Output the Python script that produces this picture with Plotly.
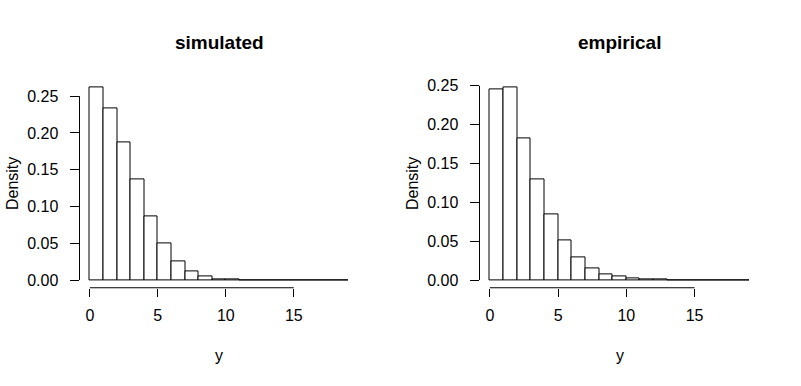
import plotly.graph_objects as go

# Histogram bins (width 1) from 0 to 19
bin_left = list(range(0, 19))
bin_centers = [b + 0.5 for b in bin_left]

simulated_density = [0.2623, 0.2335, 0.1867, 0.1363, 0.0868, 0.0499, 0.0256, 0.0121,
                     0.0054, 0.0013, 0.0008, 0.0002, 0.0001, 0.0001, 0.0001, 0.0001,
                     0.0001, 0.0001, 0.0001]
empirical_density = [0.2453, 0.2483, 0.1827, 0.1290, 0.0843, 0.0511, 0.0294, 0.0153,
                     0.0077, 0.0051, 0.0026, 0.0013, 0.0010, 0.0001, 0.0001, 0.0001,
                     0.0001, 0.0001, 0.0001]

titles = ["simulated", "empirical"]
x_ticks = [0, 5, 10, 15]
y_ticks = [0.00, 0.05, 0.10, 0.15, 0.20, 0.25]
x_label = "y"
y_label = "Density"

W, H = 801, 386
FONT = "Liberation Sans, Arial, sans-serif"

fig = go.Figure()

panels = [
    dict(data=simulated_density, title=titles[0], x0=79.5, x1=358.5, xa="x", ya="y", lab_x=12.5),
    dict(data=empirical_density, title=titles[1], x0=479.5, x1=759.5, xa="x2", ya="y2", lab_x=412.5),
]

plot_top, plot_bottom = 78.0, 288.0
ydom = [1 - plot_bottom / H, 1 - plot_top / H]

layout = dict(
    width=W, height=H,
    margin=dict(l=0, r=0, t=0, b=0),
    paper_bgcolor="white", plot_bgcolor="white",
    showlegend=False,
    font=dict(family=FONT, size=16, color="black"),
    bargap=0,
)

annotations = []
shapes = []

for i, p in enumerate(panels):
    fig.add_trace(go.Bar(
        x=bin_centers, y=p["data"], width=[1] * len(bin_centers),
        marker=dict(color="white", line=dict(color="black", width=1)),
        xaxis=p["xa"], yaxis=p["ya"], hoverinfo="skip",
    ))
    xmin, xmax = 0, len(bin_left)
    xr = [xmin - 0.04 * (xmax - xmin), xmax + 0.04 * (xmax - xmin)]
    ymax = max(p["data"])
    yr = [-0.04 * ymax, 1.04 * ymax]
    suffix = "" if i == 0 else "2"
    layout["xaxis" + suffix] = dict(
        domain=[p["x0"] / W, p["x1"] / W], range=xr, anchor="y" + suffix,
        showgrid=False, zeroline=False, showline=False,
        tickmode="array", tickvals=x_ticks, ticktext=[str(v) for v in x_ticks],
        ticks="outside", ticklen=8, tickcolor="black", tickwidth=1,
        ticklabelstandoff=5,
        tickfont=dict(family=FONT, size=16, color="black"),
    )
    layout["yaxis" + suffix] = dict(
        domain=ydom, range=yr, anchor="x" + suffix,
        showgrid=False, zeroline=False, showline=False,
        tickmode="array", tickvals=y_ticks, ticktext=[f"{v:.2f}" for v in y_ticks],
        ticks="outside", ticklen=9, tickcolor="black", tickwidth=1,
        ticklabelstandoff=8,
        tickfont=dict(family=FONT, size=16, color="black"),
    )
    xref = "x" + suffix
    yref = "y" + suffix
    # axis lines spanning tick ranges (R style)
    shapes.append(dict(type="line", xref=xref, yref=yref + " domain",
                       x0=x_ticks[0], x1=x_ticks[-1], y0=0, y1=0,
                       line=dict(color="black", width=1)))
    shapes.append(dict(type="line", xref=xref + " domain", yref=yref,
                       x0=0, x1=0, y0=y_ticks[0], y1=y_ticks[-1],
                       line=dict(color="black", width=1)))
    # title
    annotations.append(dict(text="<b>" + p["title"] + "</b>", xref="paper", yref="paper",
                            x=(p["x0"] + p["x1"]) / 2 / W, y=1 - 41 / H,
                            xanchor="center", yanchor="middle", showarrow=False,
                            font=dict(family=FONT, size=19, color="black")))
    # x label
    annotations.append(dict(text=x_label, xref="paper", yref="paper",
                            x=(p["x0"] + p["x1"]) / 2 / W, y=1 - 356 / H,
                            xanchor="center", yanchor="middle", showarrow=False,
                            font=dict(family=FONT, size=16, color="black")))
    # y label
    annotations.append(dict(text=y_label, xref="paper", yref="paper",
                            x=p["lab_x"] / W, y=1 - 183 / H, textangle=-90,
                            xanchor="center", yanchor="middle", showarrow=False,
                            font=dict(family=FONT, size=16, color="black")))

layout["annotations"] = annotations
layout["shapes"] = shapes
fig.update_layout(**layout)
fig.write_html("out.html", config={"displayModeBar": False},
               post_script="document.body.style.margin='0px';")
